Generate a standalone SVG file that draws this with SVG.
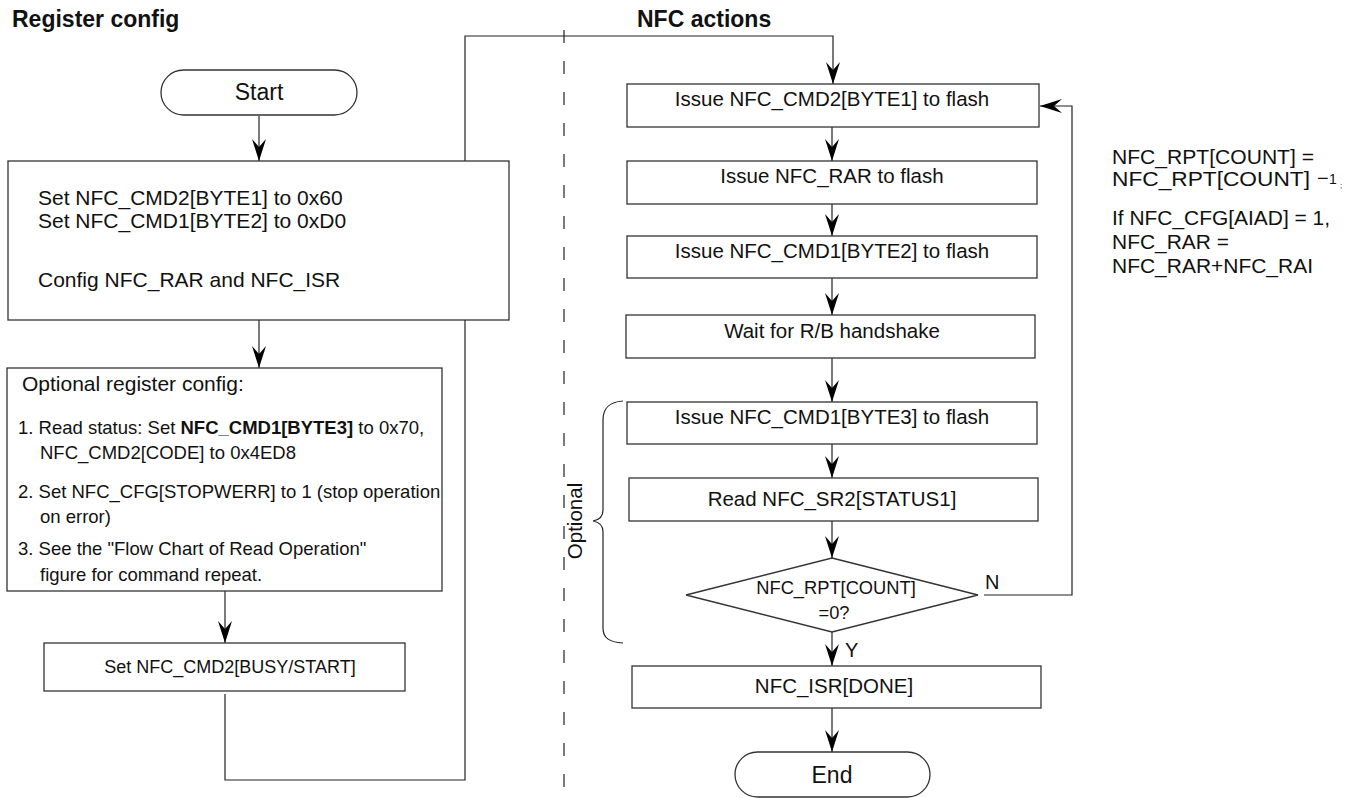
<svg xmlns="http://www.w3.org/2000/svg" width="1355" height="798" viewBox="0 0 1355 798">
<defs>
<style>
.box{fill:#fff;stroke:#333;stroke-width:1.3}
.ln{fill:none;stroke:#222;stroke-width:1.2}
.t{font-family:"Liberation Sans",Arial,sans-serif;fill:#111}
.c{text-anchor:middle}
.title{font-weight:bold;font-size:23px}
.note{font-size:19.5px}
</style>
<marker id="ah" viewBox="-23 -8 24 16" refX="0" refY="0" markerWidth="24" markerHeight="16" markerUnits="userSpaceOnUse" orient="auto">
<path d="M0,0 L-22,-7 L-14,0 L-22,7 Z" fill="#000"/>
</marker>
</defs>
<rect width="1355" height="798" fill="#fff"/>

<text class="t title" x="12" y="27">Register config</text>
<text class="t title" x="637" y="27">NFC actions</text>

<line x1="564" y1="30" x2="564" y2="798" stroke="#222" stroke-width="1.2" stroke-dasharray="13,18"/>

<g id="connectors">
<line class="ln" x1="259" y1="116" x2="259" y2="161" marker-end="url(#ah)"/>
<line class="ln" x1="259" y1="320" x2="259" y2="368" marker-end="url(#ah)"/>
<line class="ln" x1="225" y1="591" x2="225" y2="643" marker-end="url(#ah)"/>
<path class="ln" d="M225,694 V780 H465 V36 H833 V84" marker-end="url(#ah)"/>
<line class="ln" x1="832" y1="127" x2="832" y2="161" marker-end="url(#ah)"/>
<line class="ln" x1="832" y1="204" x2="832" y2="236" marker-end="url(#ah)"/>
<line class="ln" x1="832" y1="278" x2="832" y2="315" marker-end="url(#ah)"/>
<line class="ln" x1="832" y1="358" x2="832" y2="402" marker-end="url(#ah)"/>
<line class="ln" x1="832" y1="444" x2="832" y2="478" marker-end="url(#ah)"/>
<line class="ln" x1="832" y1="521" x2="832" y2="558" marker-end="url(#ah)"/>
<line class="ln" x1="832" y1="632" x2="832" y2="666" marker-end="url(#ah)"/>
<line class="ln" x1="832" y1="708" x2="832" y2="752" marker-end="url(#ah)"/>
<path class="ln" d="M984,595 H1072 V106 H1040" marker-end="url(#ah)"/>
<text class="t" x="845" y="657" font-size="20">Y</text>
<text class="t" x="985" y="589" font-size="20">N</text>
</g>

<g id="start">
<rect class="box" x="161" y="70" width="196" height="45" rx="22.5"/>
<text class="t c" x="259" y="100" font-size="23">Start</text>
</g>

<g id="box-set-cmd">
<rect class="box" x="8" y="161" width="501" height="159"/>
<text class="t" x="38" y="205" font-size="21">Set NFC_CMD2[BYTE1] to 0x60</text>
<text class="t" x="38" y="228" font-size="21">Set NFC_CMD1[BYTE2] to 0xD0</text>
<text class="t" x="38" y="287" font-size="21">Config NFC_RAR and NFC_ISR</text>
</g>

<g id="box-optional-config">
<rect class="box" x="7" y="368" width="435" height="223"/>
<text class="t" x="22" y="391" font-size="21">Optional register config:</text>
<text class="t" x="18" y="434" font-size="18.5">1. Read status: Set <tspan font-weight="bold">NFC_CMD1[BYTE3]</tspan> to 0x70,</text>
<text class="t" x="40" y="459" font-size="18.5">NFC_CMD2[CODE] to 0x4ED8</text>
<text class="t" x="18" y="498" font-size="18.5">2. Set NFC_CFG[STOPWERR] to 1 (stop operation</text>
<text class="t" x="40" y="523" font-size="18.5">on error)</text>
<text class="t" x="18" y="555" font-size="18.5">3. See the "Flow Chart of Read Operation"</text>
<text class="t" x="40" y="581" font-size="18.5">figure for command repeat.</text>
</g>

<g id="box-busy-start">
<rect class="box" x="44" y="643" width="361" height="48"/>
<text class="t c" x="230" y="673" font-size="18">Set NFC_CMD2[BUSY/START]</text>
</g>

<g id="box-issue-cmd2">
<rect class="box" x="627" y="84" width="412" height="43"/>
<text class="t c" x="832" y="106" font-size="20.5">Issue NFC_CMD2[BYTE1] to flash</text>
</g>

<g id="box-issue-rar">
<rect class="box" x="627" y="161" width="410" height="43"/>
<text class="t c" x="832" y="183" font-size="20.5">Issue NFC_RAR to flash</text>
</g>

<g id="box-issue-cmd1-byte2">
<rect class="box" x="627" y="236" width="410" height="42"/>
<text class="t c" x="832" y="258" font-size="20.5">Issue NFC_CMD1[BYTE2] to flash</text>
</g>

<g id="box-wait">
<rect class="box" x="626" y="315" width="409" height="43"/>
<text class="t c" x="832" y="338" font-size="20.5">Wait for R/B handshake</text>
</g>

<g id="box-issue-cmd1-byte3">
<rect class="box" x="627" y="402" width="410" height="42"/>
<text class="t c" x="832" y="424" font-size="20.5">Issue NFC_CMD1[BYTE3] to flash</text>
</g>

<g id="box-read-sr2">
<rect class="box" x="629" y="478" width="409" height="43"/>
<text class="t c" x="832" y="506" font-size="20.5">Read NFC_SR2[STATUS1]</text>
</g>

<g id="decision">
<polygon class="box" points="832,558 978,595 832,632 686,595"/>
<text class="t c" x="836" y="594" font-size="18.3">NFC_RPT[COUNT]</text>
<text class="t c" x="834" y="619" font-size="18.3">=0?</text>
</g>

<g id="box-isr-done">
<rect class="box" x="632" y="666" width="409" height="42"/>
<text class="t c" x="834" y="693" font-size="20.5">NFC_ISR[DONE]</text>
</g>

<g id="end">
<rect class="box" x="735" y="752" width="195" height="45" rx="22.5"/>
<text class="t c" x="832" y="783" font-size="23">End</text>
</g>

<g id="optional-brace">
<path class="ln" d="M623,401 C609,402 603,408 603,420 L603,510 C603,517 599,520 593,521 C599,522 603,525 603,532 L603,628 C603,638 609,642 623,643"/>
<text class="t c" x="0" y="0" font-size="20.5" transform="translate(582,521) rotate(-90)">Optional</text>
</g>

<g id="note">
<text class="t note" x="1112" y="164" textLength="202" lengthAdjust="spacingAndGlyphs">NFC_RPT[COUNT] =</text>
<text class="t note" x="1112" y="186" textLength="198" lengthAdjust="spacingAndGlyphs">NFC_RPT[COUNT]</text>
<text class="t" x="1317" y="185" font-size="20">−</text>
<text class="t" x="1329" y="184" font-size="14">1</text>
<text class="t" x="1340" y="188" font-size="8">;</text>
<text class="t note" x="1112" y="225" textLength="218" lengthAdjust="spacingAndGlyphs">If NFC_CFG[AIAD] = 1,</text>
<text class="t note" x="1112" y="249" textLength="117" lengthAdjust="spacingAndGlyphs">NFC_RAR =</text>
<text class="t note" x="1112" y="273" textLength="201" lengthAdjust="spacingAndGlyphs">NFC_RAR+NFC_RAI</text>
</g>
</svg>
